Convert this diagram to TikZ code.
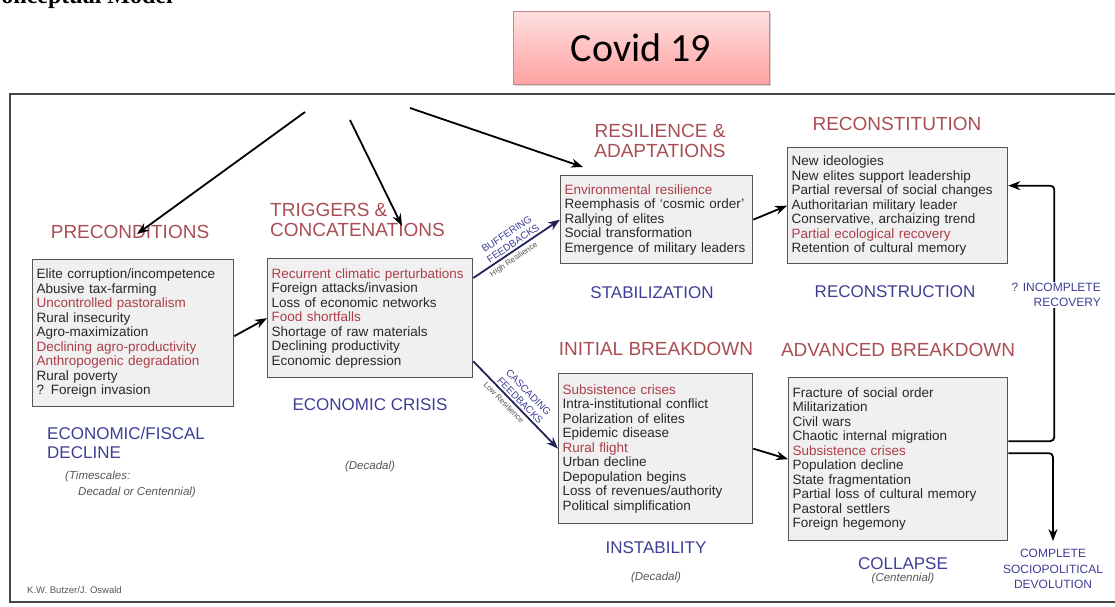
\documentclass[tikz,border=0pt]{standalone}
\usepackage{fontspec}
\setmainfont{Liberation Sans}
\newfontfamily\covidfont{Carlito}
\newfontfamily\titlefont{Liberation Serif}
\usetikzlibrary{shadows,arrows.meta}

\definecolor{headred}{RGB}{168,78,84}
\definecolor{itemred}{RGB}{172,62,72}
\definecolor{itemblack}{RGB}{40,40,40}
\definecolor{labelblue}{RGB}{62,62,150}
\definecolor{notegray}{RGB}{85,85,85}
\definecolor{boxfill}{RGB}{240,240,240}
\definecolor{boxline}{RGB}{85,85,85}
\definecolor{framegray}{RGB}{70,70,70}
\definecolor{covidtop}{RGB}{255,224,224}
\definecolor{covidbot}{RGB}{255,162,162}
\definecolor{covidline}{RGB}{200,135,135}
\definecolor{feedblue}{RGB}{35,35,90}

\newcommand{\rline}[1]{\textcolor{itemred}{#1}}

\begin{document}
\begin{tikzpicture}[
    x=1pt, y=-1pt,
    >={Stealth[length=12pt,width=9pt]},
    listbox/.style={
        draw=boxline,
        fill=boxfill,
        line width=1.3pt,
        anchor=north west,
        align=left,
        inner sep=4pt,
        text=itemblack,
        font=\fontsize{13.5}{14.5}\selectfont
    },
    stagehead/.style={
        text=headred,
        inner sep=0pt,
        font=\fontsize{19}{20}\selectfont
    },
    statelabel/.style={
        text=labelblue,
        inner sep=0pt,
        font=\fontsize{17}{19}\selectfont
    },
    smalllabel/.style={
        text=labelblue,
        inner sep=0pt,
        font=\fontsize{12}{15.5}\selectfont
    },
    timenote/.style={
        text=notegray,
        inner sep=0pt,
        font=\itshape\fontsize{11.5}{15.5}\selectfont
    },
    feedlabel/.style={
        text=labelblue,
        inner sep=0pt,
        align=center,
        font=\fontsize{10}{11.5}\selectfont
    },
    resnote/.style={
        text=notegray,
        inner sep=0pt,
        font=\fontsize{8}{8}\selectfont
    },
    flow/.style={
        ->,
        line width=1.8pt,
        black
    },
    feedback/.style={
        ->,
        line width=1.8pt,
        feedblue
    },
    covidbox/.style={
        draw=covidline,
        top color=covidtop,
        bottom color=covidbot,
        line width=0.8pt,
        drop shadow={shadow xshift=2pt, shadow yshift=-2pt, opacity=0.35},
        font=\covidfont\fontsize{40}{40}\selectfont
    }
    ]
    \useasboundingbox (0,0) rectangle (1115,606);

    % caption cut at the top of the page
    \node[anchor=base east, inner sep=0pt, font=\titlefont\bfseries\fontsize{24}{24}\selectfont] (caption) at (173,3) {Conceptual Model};

    \node[covidbox, minimum width=256pt, minimum height=73pt] (covid) at (641,47.5) {Covid 19};

    \draw[framegray, line width=1.8pt] (10,94) rectangle (1130,602);

    % stage headings
    \node[stagehead] (preHead) at (130,232) {PRECONDITIONS};
    \node[stagehead, anchor=north west, align=left] (trigHead) at (270,203) {TRIGGERS \&\\CONCATENATIONS};
    \node[stagehead, align=center] (resilHead) at (660,141) {RESILIENCE \&\\ADAPTATIONS};
    \node[stagehead] (reconHead) at (897,124) {RECONSTITUTION};
    \node[stagehead] (initHead) at (656,349) {INITIAL BREAKDOWN};
    \node[stagehead] (advHead) at (898,350) {ADVANCED BREAKDOWN};

    % boxes
    \node[listbox, text width=193pt, minimum height=147pt] (pre) at (32,259) {Elite corruption/incompetence\\Abusive tax-farming\\\rline{Uncontrolled pastoralism}\\Rural insecurity\\Agro-maximization\\\rline{Declining agro-productivity}\\\rline{Anthropogenic degradation}\\Rural poverty\\? Foreign invasion};
    \node[listbox, text width=197pt, minimum height=119pt] (trig) at (267,258) {\rline{Recurrent climatic perturbations}\\Foreign attacks/invasion\\Loss of economic networks\\\rline{Food shortfalls}\\Shortage of raw materials\\Declining productivity\\Economic depression};
    \node[listbox, text width=184pt, minimum height=88pt] (resil) at (560,175) {\rline{Environmental resilience}\\Reemphasis of `cosmic order'\\Rallying of elites\\Social transformation\\Emergence of military leaders};
    \node[listbox, text width=212pt, minimum height=116pt] (recon) at (787,147) {New ideologies\\New elites support leadership\\Partial reversal of social changes\\Authoritarian military leader\\Conservative, archaizing trend\\\rline{Partial ecological recovery}\\Retention of cultural memory};
    \node[listbox, text width=186pt, minimum height=150pt] (initb) at (558,373) {\rline{Subsistence crises}\\Intra-institutional conflict\\Polarization of elites\\Epidemic disease\\\rline{Rural flight}\\Urban decline\\Depopulation begins\\Loss of revenues/authority\\Political simplification};
    \node[listbox, text width=211pt, minimum height=163pt] (advb) at (788,377) {Fracture of social order\\Militarization\\Civil wars\\Chaotic internal migration\\\rline{Subsistence crises}\\Population decline\\State fragmentation\\Partial loss of cultural memory\\Pastoral settlers\\Foreign hegemony};

    % state labels
    \node[statelabel, anchor=north west, align=left] (fiscal) at (47,427) {ECONOMIC/FISCAL\\DECLINE};
    \node[statelabel] (crisis) at (370,405) {ECONOMIC CRISIS};
    \node[statelabel] (stab) at (652,293) {STABILIZATION};
    \node[statelabel] (rebuild) at (895,292) {RECONSTRUCTION};
    \node[statelabel] (instab) at (656,548) {INSTABILITY};
    \node[statelabel] (collapse) at (903,564) {COLLAPSE};

    \node[timenote, anchor=north west, align=left] (scales) at (65,471) {(Timescales:\\\hspace{13pt}Decadal or Centennial)};
    \node[timenote] (decTrig) at (370,467) {(Decadal)};
    \node[timenote] (decInit) at (656,578) {(Decadal)};
    \node[timenote] (centAdv) at (903,579) {(Centennial)};
    \node[anchor=west, inner sep=0pt, text=notegray, font=\fontsize{9.5}{10}\selectfont] (authors) at (27,590) {K.W. Butzer/J. Oswald};

    % arrows from Covid 19
    \coordinate (src1) at (305,112);
    \coordinate (src2) at (350,120);
    \coordinate (src3) at (410,108);
    \draw[flow] (src1) -- ([xshift=7pt,yshift=-2pt]preHead.center);
    \draw[flow] (src2) -- ([xshift=132pt,yshift=-23pt]trigHead.north west);
    \draw[flow] (src3) -- ([xshift=23pt,yshift=8pt]resil.north west);

    % stage to stage
    \draw[flow] ([yshift=-3pt]pre.east) -- (trig.west);
    \draw[flow] (resil.east) -- (recon.west);
    \draw[flow] (initb.east) -- (advb.west);

    \draw[feedback] ([yshift=-20pt]trig.north east) -- (resil.west)
        node[feedlabel, midway, sloped, above=2pt] {BUFFERING\\FEEDBACKS}
        node[resnote, pos=0.42, sloped, below=3pt] {High Resilience};
    \draw[feedback] ([yshift=17pt]trig.south east) -- (initb.west)
        node[feedlabel, midway, sloped, above=2pt] {CASCADING\\FEEDBACKS}
        node[resnote, pos=0.42, sloped, below=3pt] {Low Resilience};

    % outcomes of collapse
    \node[smalllabel, align=center] (devol) at (1053,569) {COMPLETE\\SOCIOPOLITICAL\\DEVOLUTION};
    \draw[flow, rounded corners=4pt] ([yshift=18pt]advb.east) -| ([xshift=46pt,yshift=20pt]recon.east) -- ([yshift=20pt]recon.east);
    \draw[flow, rounded corners=4pt] ([yshift=6pt]advb.east) -| ([yshift=8pt]devol.north);
    \node[smalllabel, align=right, anchor=east, fill=white, inner sep=1pt] (recovery) at (1102,295) {? INCOMPLETE\\RECOVERY};
\end{tikzpicture}
\end{document}
